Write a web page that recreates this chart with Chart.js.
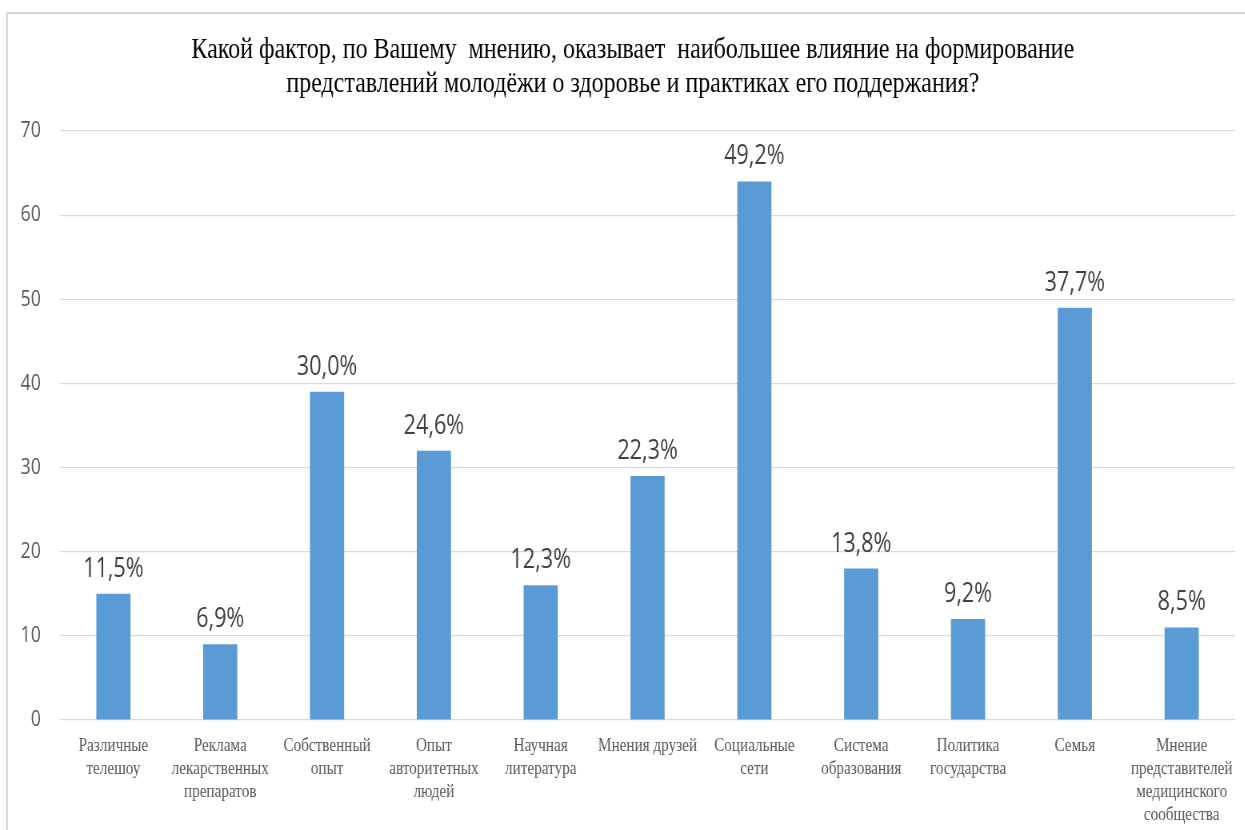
<!DOCTYPE html>
<html lang="ru">
<head>
<meta charset="utf-8">
<title>Факторы, влияющие на представления молодёжи о здоровье</title>
<script src="https://cdn.jsdelivr.net/npm/chart.js@4.4.1/dist/chart.umd.min.js"></script>
<style>
    html, body { margin: 0; padding: 0; background: #fff; overflow: hidden; }
    .frame {
        position: absolute; left: 6px; top: 12px; width: 1400px; height: 900px;
        border-top: 2px solid #d9d9d9; border-left: 2px solid #d9d9d9;
    }
    /* the chart is laid out wide and then narrowed, like the condensed office export */
    .stretch {
        position: absolute; left: 0; top: 0; width: 1556px; height: 830px;
        transform: scaleX(0.8); transform-origin: 0 0;
    }
</style>
</head>
<body>
<div class="frame"></div>
<div class="stretch"><canvas id="myChart"></canvas></div>
<script>
var titleLines = [
    'Какой фактор, по Вашему  мнению, оказывает  наибольшее влияние на формирование',
    'представлений молодёжи о здоровье и практиках его поддержания?'
];
var factorLabels = [
    ['Различные', 'телешоу'],
    ['Реклама', 'лекарственных', 'препаратов'],
    ['Собственный', 'опыт'],
    ['Опыт', 'авторитетных', 'людей'],
    ['Научная', 'литература'],
    'Мнения друзей',
    ['Социальные', 'сети'],
    ['Система', 'образования'],
    ['Политика', 'государства'],
    'Семья',
    ['Мнение', 'представителей', 'медицинского', 'сообщества']
];
// number of respondents who chose each factor
var answerCounts = [15, 9, 39, 32, 16, 29, 64, 18, 12, 49, 11];
var respondentsTotal = 130;
var yTicks = [0, 10, 20, 30, 40, 50, 60, 70];

var barColor = '#5b9bd5';
var textGray = '#595959';

/**
 * Share of respondents as it is written over the bars, e.g. "11,5%"
 * @param {Number} count answers for a factor
 */
function shareLabel(count) {
    return (count / respondentsTotal * 100).toFixed(1).replace('.', ',') + '%';
}

// question text on two lines, a little left of the plot centre
const questionTitle = {
    id: 'questionTitle',
    afterDraw(chart) {
        const ctx = chart.ctx;
        ctx.save();
        ctx.font = '30px "Liberation Serif"';
        ctx.fillStyle = '#000';
        ctx.textAlign = 'center';
        ctx.textBaseline = 'alphabetic';
        titleLines.forEach(function (line, i) {
            ctx.fillText(line, chart.width / 2 + 13, 58 + i * 34);
        });
        ctx.restore();
    }
};

// writes the share over every bar
const shareLabels = {
    id: 'shareLabels',
    afterDatasetsDraw(chart) {
        const ctx = chart.ctx;
        const meta = chart.getDatasetMeta(0);
        ctx.save();
        ctx.font = '27px "Open Sans"';
        ctx.fillStyle = '#404040';
        ctx.textAlign = 'center';
        ctx.textBaseline = 'alphabetic';
        meta.data.forEach(function (bar, i) {
            ctx.fillText(shareLabel(answerCounts[i]), bar.x, bar.y - 17);
        });
        ctx.restore();
    }
};

const ctx = document.getElementById('myChart');
const myChart = new Chart(ctx, {
    type: 'bar',
    data: {
        labels: factorLabels,
        datasets: [{
            data: answerCounts,
            backgroundColor: barColor,
            borderWidth: 0,
            barPercentage: 0.32,
            categoryPercentage: 1
        }]
    },
    options: {
        responsive: true,
        maintainAspectRatio: false,
        animation: false,
        layout: {
            padding: { left: 0, right: 10, top: 131, bottom: 0 }
        },
        plugins: {
            legend: { display: false },
            tooltip: { enabled: false },
            title: { display: false }
        },
        scales: {
            x: {
                grid: { display: false, drawTicks: false },
                border: { display: false },
                ticks: {
                    color: textGray,
                    padding: 15,
                    maxRotation: 0,
                    autoSkip: false,
                    font: { family: '"Liberation Serif", serif', size: 19, lineHeight: 1.21 }
                },
                afterFit: function (scale) { scale.height = 110; }
            },
            y: {
                min: 0,
                max: 70,
                afterBuildTicks: function (scale) {
                    scale.ticks = yTicks.map(function (v) { return { value: v }; });
                },
                grid: { color: '#d9d9d9', lineWidth: 1.2, drawTicks: false },
                border: { display: false },
                ticks: {
                    color: textGray,
                    padding: 24,
                    font: { family: '"Open Sans", sans-serif', size: 22 }
                },
                afterFit: function (scale) { scale.width = 75; }
            }
        }
    },
    plugins: [questionTitle, shareLabels]
});
</script>
</body>
</html>
